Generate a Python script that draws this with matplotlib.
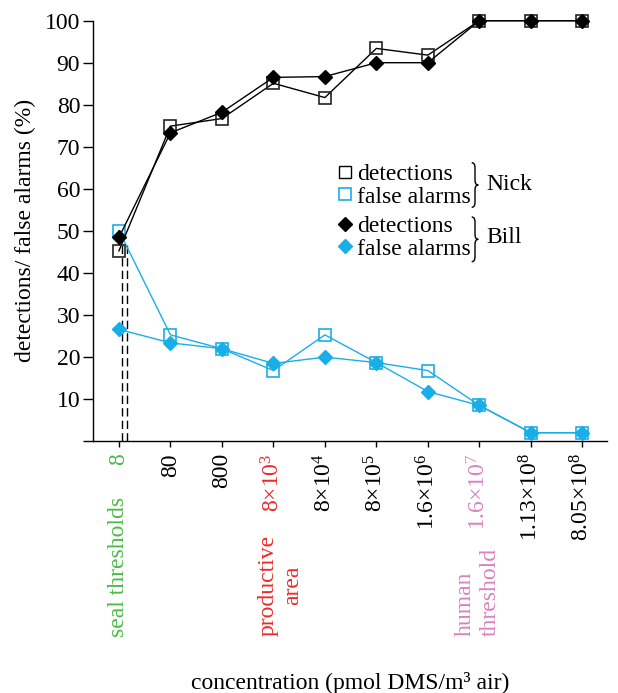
import numpy as np
import matplotlib
matplotlib.use("Agg")
import matplotlib.pyplot as plt
from matplotlib.lines import Line2D
from matplotlib.path import Path
from matplotlib.patches import PathPatch
import matplotlib.transforms as mtransforms

plt.rcParams['font.family'] = ['Liberation Serif', 'DejaVu Serif']
plt.rcParams['mathtext.fontset'] = 'custom'
plt.rcParams['mathtext.rm'] = 'Liberation Serif'
plt.rcParams['mathtext.it'] = 'Liberation Serif:italic'
plt.rcParams['mathtext.bf'] = 'Liberation Serif:bold'

# concentration categories (pmol DMS / m3 air)
conc_labels = ['8', '80', '800', '8×$10^{3}$', '8×$10^{4}$', '8×$10^{5}$',
               '1.6×$10^{6}$', '1.6×$10^{7}$', '1.13×$10^{8}$', '8.05×$10^{8}$']
label_colors = ['#4cbb47', 'black', 'black', '#ee2a2a', 'black', 'black',
                'black', '#d982c2', 'black', 'black']

nick_detections = [45.2, 74.9, 76.7, 85.1, 81.7, 93.4, 91.8, 100, 100, 100]
nick_false_alarms = [50.0, 25.2, 21.9, 16.7, 25.2, 18.6, 16.7, 8.4, 1.9, 1.9]
bill_detections = [48.4, 73.3, 78.2, 86.5, 86.7, 90.0, 90.0, 100, 100, 100]
bill_false_alarms = [26.5, 23.3, 21.9, 18.4, 19.9, 18.6, 11.7, 8.4, 1.9, 1.9]

seal_threshold_top = 47.5

BLUE = '#1aaee8'
FS = 17
W, H = 618, 693

x = np.arange(len(conc_labels))

fig = plt.figure(figsize=(W / 100, H / 100), dpi=100)
ax = fig.add_axes([92.7 / W, 1 - 440.7 / H, (607 - 92.7) / W, 420 / H])

# seal threshold dashed lines
ax.vlines([x[0] + 0.05, x[0] + 0.15], 0, seal_threshold_top, colors='black',
          linestyles=(0, (6, 3)), linewidth=1.0, zorder=1)

ax.plot(x, nick_false_alarms, color=BLUE, lw=1.0, marker='s', ms=8.5,
        mfc='none', mec=BLUE, mew=1.2, clip_on=False, zorder=2)
ax.plot(x, bill_false_alarms, color=BLUE, lw=1.0, marker='D', ms=7,
        mfc=BLUE, mec=BLUE, clip_on=False, zorder=3)
ax.plot(x, nick_detections, color='black', lw=1.0, marker='s', ms=8.5,
        mfc='none', mec='#222222', mew=1.2, clip_on=False, zorder=4)
ax.plot(x, bill_detections, color='black', lw=1.0, marker='D', ms=7,
        mfc='black', mec='black', clip_on=False, zorder=5)

ax.set_xlim(-0.51, 9.48)
ax.set_ylim(0, 100)
ax.spines['top'].set_visible(False)
ax.spines['right'].set_visible(False)
for s in ('left', 'bottom'):
    ax.spines[s].set_linewidth(1.0)

ax.set_yticks(np.arange(0, 101, 10))
ax.set_yticklabels([''] + [str(v) for v in range(10, 101, 10)])
ax.tick_params(axis='y', direction='out', length=7, width=1.0, labelsize=FS, pad=2)
ax.set_xticks(x)
ax.set_xticklabels(conc_labels, rotation=90, ha='center', va='top')
ax.tick_params(axis='x', direction='out', length=4, width=1.0, labelsize=FS, pad=5)
for lab, c in zip(ax.get_xticklabels(), label_colors):
    lab.set_color(c)

# secondary annotations below the tick labels
blend = mtransforms.blended_transform_factory(ax.transData, ax.transAxes)
ax.text(0, -0.134, 'seal thresholds', color='#4cbb47', rotation=90,
        ha='center', va='top', fontsize=FS, transform=blend)
ax.text(3.14, -0.224, 'productive\narea', color='#ee2a2a', rotation=90,
        ha='center', va='top', multialignment='center', fontsize=FS,
        transform=blend)
ax.text(6.97, -0.255, 'human\nthreshold', color='#d982c2', rotation=90,
        ha='center', va='top', multialignment='left', fontsize=FS,
        transform=blend)

fig.text(350 / W, 1 - 683 / H, 'concentration (pmol DMS/m³ air)',
         ha='center', va='center', fontsize=FS)
fig.text(25 / W, 1 - 230.7 / H, 'detections/ false alarms (%)', rotation=90,
         ha='center', va='center', fontsize=FS)

# legends
pix = mtransforms.Affine2D().scale(1 / W, -1 / H).translate(0, 1) + fig.transFigure
nick_handles = [Line2D([], [], ls='none', marker='s', ms=8.5, mfc='none', mec='black', mew=1.0),
                Line2D([], [], ls='none', marker='s', ms=8.5, mfc='none', mec=BLUE, mew=1.2)]
bill_handles = [Line2D([], [], ls='none', marker='D', ms=7, color='black'),
                Line2D([], [], ls='none', marker='D', ms=7, color=BLUE)]
leg_kw = dict(frameon=False, fontsize=FS, loc='upper left', borderpad=0,
              borderaxespad=0, handlelength=0.8, handletextpad=0.1,
              labelspacing=0.05, bbox_transform=pix)
leg1 = fig.legend(nick_handles, ['detections', 'false alarms'],
                  bbox_to_anchor=(335.5, 163.5), **leg_kw)
leg2 = fig.legend(bill_handles, ['detections', 'false alarms'],
                  bbox_to_anchor=(335.5, 215.5), **leg_kw)


def brace(x0, x1, yt, yb, r=5):
    xm = (x0 + x1) / 2
    ym = (yt + yb) / 2
    verts = [(x0, yt), (xm, yt), (xm, yt + r), (xm, ym - r), (xm, ym), (x1, ym),
             (xm, ym), (xm, ym + r), (xm, yb - r), (xm, yb), (x0, yb)]
    codes = [Path.MOVETO, Path.CURVE3, Path.CURVE3, Path.LINETO, Path.CURVE3,
             Path.CURVE3, Path.CURVE3, Path.CURVE3, Path.LINETO, Path.CURVE3,
             Path.CURVE3]
    fig.add_artist(PathPatch(Path(verts, codes), fill=False, lw=1.0,
                             edgecolor='black', transform=pix))


brace(471.7, 478.3, 162.7, 207.3)
brace(471.7, 478.3, 217, 261.7)
fig.text(486 / W, 1 - 185 / H, 'Nick', ha='left', va='center', fontsize=FS)
fig.text(486 / W, 1 - 237 / H, 'Bill', ha='left', va='center', fontsize=FS)

fig.savefig('out.png', dpi=100)
